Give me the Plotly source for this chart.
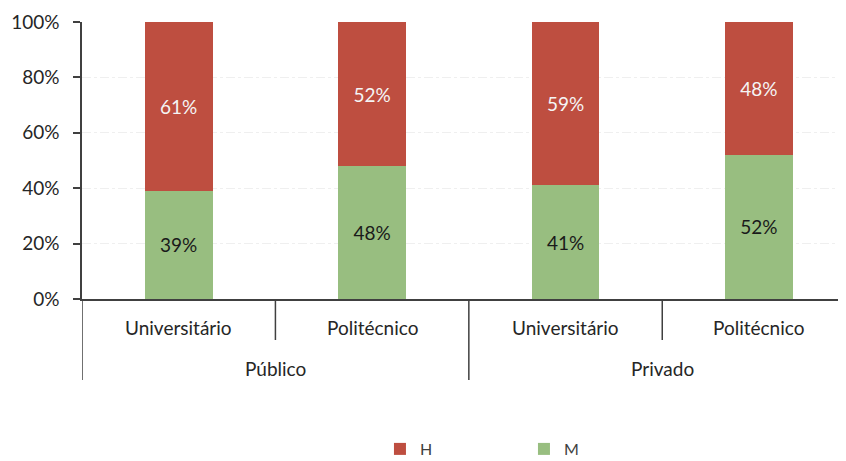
import plotly.graph_objects as go

sector = ["Público", "Público", "Privado", "Privado"]
tipo = ["Universitário", "Politécnico", "Universitário", "Politécnico"]
h_vals = [61, 52, 59, 48]
m_vals = [39, 48, 41, 52]
y_ticks = [0, 20, 40, 60, 80, 100]
y_tick_labels = ["0%", "20%", "40%", "60%", "80%", "100%"]

FONT = "Lato"
RED = "#BE4E40"
GREEN = "#98BE80"
AXIS = "#404040"
TXT = "#262626"

keys = [f"{s} {t}" for s, t in zip(sector, tipo)]

fig = go.Figure()
fig.add_trace(go.Bar(
    x=keys, y=m_vals, name="M", marker=dict(color=GREEN, line=dict(width=0)),
    text=[f"{v}%" for v in m_vals], textposition="inside", insidetextanchor="middle",
    textfont=dict(color="#1a1a1a", size=19, family=FONT), width=0.35,
))
fig.add_trace(go.Bar(
    x=keys, y=h_vals, name="H", marker=dict(color=RED, line=dict(width=0)),
    text=[f"{v}%" for v in h_vals], textposition="inside", insidetextanchor="middle",
    textfont=dict(color="#f5f5f5", size=19, family=FONT), width=0.35,
))

# page body has an 8px margin; window plot area x 82..846, y 22..299
PH = 277.0
def py(pix):
    return -(pix - 299) / PH

for k, t in zip(keys, tipo):
    fig.add_annotation(x=k, xref="x", y=py(327), yref="paper", text=t, showarrow=False,
                       font=dict(size=19, color=TXT, family=FONT), yanchor="middle")
groups = []
for i, s in enumerate(sector):
    if not groups or groups[-1][0] != s:
        groups.append([s, i, i])
    else:
        groups[-1][2] = i
for s, a, b in groups:
    fig.add_annotation(x=(a + b) / 2, xref="x", y=py(368), yref="paper", text=s, showarrow=False,
                       font=dict(size=19, color=TXT, family=FONT), yanchor="middle")

n = len(keys)
for i in range(n):
    bx = i - 0.5
    outer = (i == 0 or sector[i - 1] != sector[i])
    fig.add_shape(type="line", xref="x", yref="paper", x0=bx, x1=bx, y0=0,
                  y1=py(380) if outer else py(340), line=dict(color=AXIS, width=1.5))

fig.update_layout(
    width=838, height=453,
    margin=dict(l=74, r=0, t=14, b=162, autoexpand=False),
    barmode="stack",
    plot_bgcolor="white", paper_bgcolor="white",
    font=dict(family=FONT, size=18, color=TXT),
    showlegend=True,
    legend=dict(orientation="h", x=0.39, xanchor="left", y=py(449), yanchor="middle",
                traceorder="reversed", font=dict(size=16, color="#404040"),
                entrywidth=99, itemwidth=30),
)
fig.update_yaxes(
    range=[0, 100], tickvals=y_ticks, ticktext=y_tick_labels,
    showline=True, linecolor=AXIS, linewidth=1.5,
    ticks="outside", ticklen=7, tickcolor=AXIS, tickwidth=1.5, ticklabelstandoff=10,
    showgrid=True, gridcolor="#efefef", griddash="dashdot", gridwidth=1,
    tickfont=dict(size=19, color=TXT), zeroline=False, automargin=False,
)
fig.update_xaxes(
    type="category", categoryorder="array", categoryarray=keys, range=[-0.5, 3.45],
    showline=True, linecolor=AXIS, linewidth=1.5, showticklabels=False, ticks="",
    showgrid=False, automargin=False,
)

fig.write_html("out.html")
